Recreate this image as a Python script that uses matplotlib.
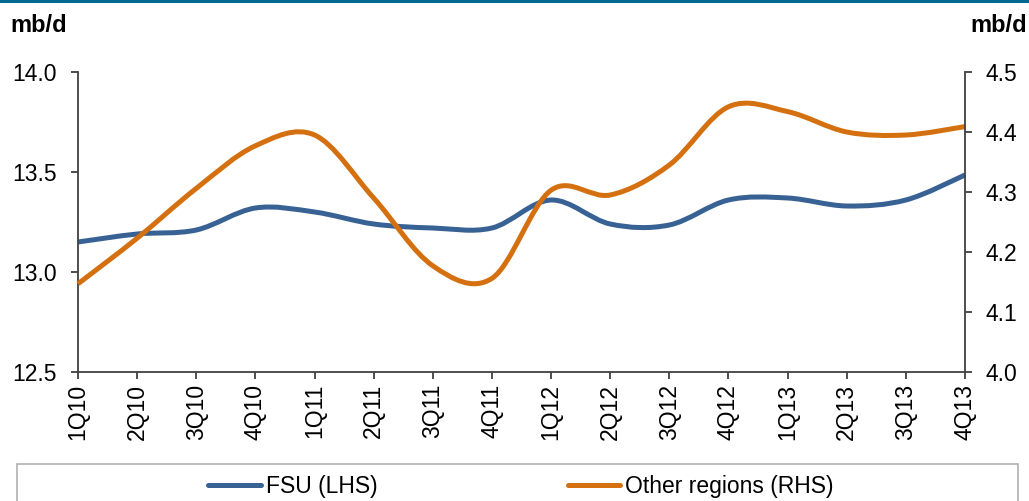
import numpy as np
import matplotlib
matplotlib.use("Agg")
import matplotlib.pyplot as plt
from matplotlib.path import Path
from matplotlib.patches import PathPatch, Rectangle
from matplotlib.lines import Line2D

plt.rcParams['font.family'] = ['Liberation Sans', 'DejaVu Sans']

# quarters and values
quarters = ['1Q10', '2Q10', '3Q10', '4Q10', '1Q11', '2Q11', '3Q11', '4Q11',
            '1Q12', '2Q12', '3Q12', '4Q12', '1Q13', '2Q13', '3Q13', '4Q13']
fsu = [13.15, 13.19, 13.21, 13.32, 13.30, 13.24, 13.22, 13.22,
       13.36, 13.24, 13.235, 13.36, 13.37, 13.33, 13.36, 13.485]
other = [4.147, 4.223, 4.306, 4.377, 4.395, 4.29, 4.177, 4.156,
         4.303, 4.295, 4.345, 4.442, 4.434, 4.40, 4.395, 4.409]

blue = '#386194'
orange = '#D4700F'
axcol = '#404040'
fs = 16.5


def smooth(x, y):
    # Excel-style smoothed line: cubic bezier through every point
    n = len(x)
    verts = [(x[0], y[0])]
    codes = [Path.MOVETO]
    for i in range(n - 1):
        a = max(i - 1, 0)
        b = min(i + 2, n - 1)
        c1 = (x[i] + (x[i + 1] - x[a]) / 6, y[i] + (y[i + 1] - y[a]) / 6)
        c2 = (x[i + 1] - (x[b] - x[i]) / 6, y[i + 1] - (y[b] - y[i]) / 6)
        verts += [c1, c2, (x[i + 1], y[i + 1])]
        codes += [Path.CURVE4] * 3
    return Path(verts, codes)


fig = plt.figure(figsize=(10.29, 5.01), dpi=100)
ax = fig.add_axes([78 / 1029, 129 / 501, 887 / 1029, 300 / 501])
ax2 = ax.twinx()

x = np.arange(len(quarters), dtype=float)
ax.add_patch(PathPatch(smooth(x, fsu), fill=False, edgecolor=blue, lw=3.6,
                       capstyle='butt', clip_on=False))
ax2.add_patch(PathPatch(smooth(x, other), fill=False, edgecolor=orange, lw=3.6,
                        capstyle='butt', clip_on=False))

ax.set_xlim(0, len(quarters) - 1)
ax.set_ylim(12.5, 14.0)
ax2.set_ylim(4.0, 4.5)
ax.set_yticks([12.5, 13.0, 13.5, 14.0])
ax.set_yticklabels(['12.5', '13.0', '13.5', '14.0'])
ax2.set_yticks([4.0, 4.1, 4.2, 4.3, 4.4, 4.5])
ax2.set_yticklabels(['4.0', '4.1', '4.2', '4.3', '4.4', '4.5'])
ax.set_xticks(x)
ax.set_xticklabels(quarters, rotation=90)

for a in (ax, ax2):
    a.spines['top'].set_visible(False)
    for s in a.spines.values():
        s.set_color(axcol)
        s.set_linewidth(1.3)
    a.tick_params(colors=axcol, labelcolor='black', labelsize=fs,
                  length=5, width=1.3, direction='out', pad=10)
ax.spines['right'].set_visible(False)
ax2.spines['left'].set_visible(False)
ax2.spines['bottom'].set_visible(False)
ax.tick_params(axis='x', pad=3.5)

fig.text(10 / 1029, 1 - 25 / 501, 'mb/d', fontsize=17, fontweight='bold',
         ha='left', va='center')
fig.text(1027 / 1029, 1 - 25 / 501, 'mb/d', fontsize=17, fontweight='bold',
         ha='right', va='center')

# cropped title banner at top
fig.patches.append(Rectangle((0, 1 - 3 / 501), 1, 3 / 501, transform=fig.transFigure,
                             facecolor='#00698F', edgecolor='none'))

# legend box running off the bottom
fig.patches.append(Rectangle((17 / 1029, -0.05), 1001 / 1029, 0.05 + 37 / 501,
                             transform=fig.transFigure, facecolor='none',
                             edgecolor='#B0B0B0', lw=1.2))
handles = [Line2D([], [], color=blue, lw=3.6, solid_capstyle='round'),
           Line2D([], [], color=orange, lw=3.6, solid_capstyle='round')]
fig.legend(handles, ['FSU (LHS)', 'Other regions (RHS)'], loc='center',
           bbox_to_anchor=(521 / 1029, 1 - 487 / 501), ncol=2, frameon=False,
           fontsize=fs, handlelength=2.3, handletextpad=0.22, columnspacing=8.3)

fig.savefig('out.png', dpi=100)
